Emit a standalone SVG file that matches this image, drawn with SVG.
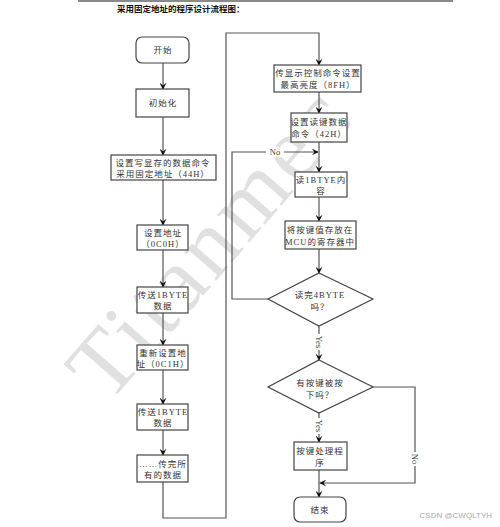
<svg xmlns="http://www.w3.org/2000/svg" width="500" height="527" viewBox="0 0 500 527">
<defs>
<marker id="ah" viewBox="0 0 10 10" refX="9" refY="5" markerWidth="7" markerHeight="7" orient="auto" markerUnits="userSpaceOnUse">
<path d="M0,0 L10,5 L0,10 L4,5 z" fill="#111"/>
</marker>
<style>
.box{fill:#fff;stroke:#444;stroke-width:1.2}
.ln{fill:none;stroke:#555;stroke-width:1.2}
.t{font-family:"Liberation Serif","Noto Sans CJK SC",serif;font-size:8.5px;fill:#333;text-anchor:middle;letter-spacing:1px}
.lb{font-family:"Liberation Serif",serif;font-size:8.5px;fill:#444;text-anchor:middle}
</style>
</defs>
<rect width="500" height="527" fill="#fff"/>
<rect x="78" y="0" width="375" height="2" fill="#8a8a8a"/>
<text x="117" y="12" style="font-family:'Noto Sans CJK SC',sans-serif;font-size:8.5px;font-weight:bold;fill:#111">采用固定地址的程序设计流程图：</text>

<g id="watermark">
<text transform="translate(108,405) rotate(-49)" textLength="375" lengthAdjust="spacing" style="font-family:'Liberation Serif',serif;font-size:92px;fill:#e0e0e0">Titanmec</text>
</g>

<g id="connectors">
<line class="ln" x1="163" y1="63" x2="163" y2="89" marker-end="url(#ah)"/>
<line class="ln" x1="163" y1="117" x2="163" y2="155" marker-end="url(#ah)"/>
<line class="ln" x1="163" y1="180" x2="163" y2="225" marker-end="url(#ah)"/>
<line class="ln" x1="163" y1="250" x2="163" y2="287" marker-end="url(#ah)"/>
<line class="ln" x1="163" y1="313" x2="163" y2="345" marker-end="url(#ah)"/>
<line class="ln" x1="163" y1="370" x2="163" y2="404" marker-end="url(#ah)"/>
<line class="ln" x1="163" y1="430" x2="163" y2="455" marker-end="url(#ah)"/>
<polyline class="ln" points="163,482 163,518 226,518 226,33 319,33 319,65" marker-end="url(#ah)"/>
<line class="ln" x1="319" y1="92" x2="319" y2="113" marker-end="url(#ah)"/>
<line class="ln" x1="319" y1="142" x2="319" y2="172" marker-end="url(#ah)"/>
<line class="ln" x1="319" y1="197" x2="319" y2="221" marker-end="url(#ah)"/>
<line class="ln" x1="319" y1="249" x2="319" y2="273" marker-end="url(#ah)"/>
<polyline class="ln" points="268,299 232,299 232,152 318,152" marker-end="url(#ah)"/>
<rect x="266" y="147" width="18" height="10" fill="#fff"/>
<text class="lb" x="275" y="155">No</text>
<line class="ln" x1="319" y1="326" x2="319" y2="360" marker-end="url(#ah)"/>
<rect x="314" y="334" width="10" height="16" fill="#fff"/>
<text class="lb" transform="translate(316,342) rotate(90)">Yes</text>
<line class="ln" x1="319" y1="413" x2="319" y2="442" marker-end="url(#ah)"/>
<rect x="314" y="418" width="10" height="16" fill="#fff"/>
<text class="lb" transform="translate(316,426) rotate(90)">Yes</text>
<line class="ln" x1="319" y1="470" x2="319" y2="497" marker-end="url(#ah)"/>
<polyline class="ln" points="373,387 415,387 415,483 320,483" marker-end="url(#ah)"/>
<rect x="410" y="452" width="10" height="14" fill="#fff"/>
<text class="lb" transform="translate(412,459) rotate(90)">No</text>
</g>

<g id="n_start"><rect class="box" x="136" y="37" width="53" height="26" rx="6"/><text class="t" x="163" y="53">开始</text></g>
<g id="n_init"><rect class="box" x="136" y="89" width="53" height="28"/><text class="t" x="163" y="106">初始化</text></g>
<g id="n_cmd44"><rect class="box" x="111" y="155" width="105" height="25"/><text class="t" x="163" y="166">设置写显存的数据命令</text><text class="t" x="163" y="177">采用固定地址（44H）</text></g>
<g id="n_addr0"><rect class="box" x="137" y="225" width="51" height="25"/><text class="t" x="163" y="236">设置地址</text><text class="t" x="163" y="247">（0C0H）</text></g>
<g id="n_send1"><rect class="box" x="137" y="287" width="51" height="26"/><text class="t" x="163" y="298">传送1BYTE</text><text class="t" x="163" y="309">数据</text></g>
<g id="n_addr1"><rect class="box" x="137" y="345" width="51" height="25"/><text class="t" x="163" y="356">重新设置地</text><text class="t" x="163" y="367">址（0C1H）</text></g>
<g id="n_send2"><rect class="box" x="137" y="404" width="51" height="26"/><text class="t" x="163" y="415">传送1BYTE</text><text class="t" x="163" y="426">数据</text></g>
<g id="n_all"><rect class="box" x="137" y="455" width="51" height="27"/><text class="t" x="163" y="467">……传完所</text><text class="t" x="163" y="478">有的数据</text></g>

<g id="n_disp"><rect class="box" x="274" y="65" width="87" height="27"/><text class="t" x="318" y="76">传显示控制命令设置</text><text class="t" x="318" y="88">最高亮度（8FH）</text></g>
<g id="n_read42"><rect class="box" x="291" y="113" width="56" height="29"/><text class="t" x="319" y="125">设置读键数据</text><text class="t" x="319" y="137">命令（42H）</text></g>
<g id="n_read1"><rect class="box" x="295" y="172" width="52" height="25"/><text class="t" x="321" y="183">读1BTYE内</text><text class="t" x="321" y="194">容</text></g>
<g id="n_store"><rect class="box" x="285" y="221" width="71" height="28"/><text class="t" x="320" y="233">将按键值存放在</text><text class="t" x="320" y="245">MCU的寄存器中</text></g>
<g id="n_done4"><polygon class="box" points="319,273 373,299 319,326 268,299"/><text class="t" x="320" y="298">读完4BYTE</text><text class="t" x="320" y="310">吗？</text></g>
<g id="n_press"><polygon class="box" points="319,360 373,387 319,413 268,387"/><text class="t" x="320" y="386">有按键被按</text><text class="t" x="320" y="398">下吗？</text></g>
<g id="n_handle"><rect class="box" x="294" y="442" width="53" height="28"/><text class="t" x="320" y="454">按键处理程</text><text class="t" x="320" y="466">序</text></g>
<g id="n_end"><rect class="box" x="294" y="497" width="52" height="25" rx="6"/><text class="t" x="320" y="513">结束</text></g>

<text x="492" y="518" style="font-family:'Liberation Sans',sans-serif;font-size:8px;fill:#aaa;text-anchor:end">CSDN @CWQLTYH</text>
</svg>
